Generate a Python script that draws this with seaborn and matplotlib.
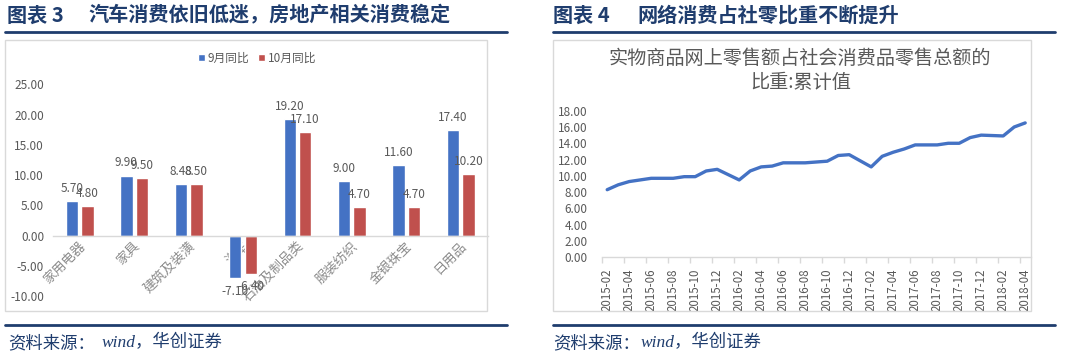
import matplotlib
matplotlib.use('Agg')
import matplotlib.pyplot as plt
import seaborn as sns
import pandas as pd
from matplotlib.patches import Rectangle
from matplotlib.lines import Line2D
from matplotlib.ticker import FormatStrFormatter, FixedLocator
from matplotlib.transforms import ScaledTranslation

# ---------------- data ----------------
categories = ['家用电器', '家具', '建筑及装潢', '汽车', '石油及制品类', '服装纺织', '金银珠宝', '日用品']
sep_yoy = [5.70, 9.90, 8.48, -7.10, 19.20, 9.00, 11.60, 17.40]
oct_yoy = [4.80, 9.50, 8.50, -6.40, 17.10, 4.70, 4.70, 10.20]
series_names = ['9月同比', '10月同比']
left_yticks = [-10, -5, 0, 5, 10, 15, 20, 25]

months = ['2015-02', '2015-03', '2015-04', '2015-05', '2015-06', '2015-07', '2015-08', '2015-09',
          '2015-10', '2015-11', '2015-12',
          '2016-02', '2016-03', '2016-04', '2016-05', '2016-06', '2016-07', '2016-08', '2016-09',
          '2016-10', '2016-11', '2016-12',
          '2017-02', '2017-03', '2017-04', '2017-05', '2017-06', '2017-07', '2017-08', '2017-09',
          '2017-10', '2017-11', '2017-12',
          '2018-02', '2018-03', '2018-04']
online_share = [8.3, 8.9, 9.3, 9.5, 9.7, 9.7, 9.7, 9.9, 9.9, 10.6, 10.8,
                9.5, 10.6, 11.1, 11.2, 11.6, 11.6, 11.6, 11.7, 11.8, 12.5, 12.6,
                11.1, 12.4, 12.9, 13.3, 13.8, 13.8, 13.8, 14.0, 14.0, 14.7, 15.0,
                14.9, 16.0, 16.5]
right_xtick_labels = ['2015-02', '2015-04', '2015-06', '2015-08', '2015-10', '2015-12',
                      '2016-02', '2016-04', '2016-06', '2016-08', '2016-10', '2016-12',
                      '2017-02', '2017-04', '2017-06', '2017-08', '2017-10', '2017-12',
                      '2018-02', '2018-04']
right_yticks = [0, 2, 4, 6, 8, 10, 12, 14, 16, 18]

left_title_num = '图表 3'
left_title = '汽车消费依旧低迷，房地产相关消费稳定'
right_title_num = '图表 4'
right_title = '网络消费占社零比重不断提升'
chart_title_1 = '实物商品网上零售额占社会消费品零售总额的'
chart_title_2 = '比重:累计值'
source_a = '资料来源：'
source_b = 'wind，华创证券'

# ---------------- style ----------------
sns.set_style('white')
plt.rcParams['font.family'] = ['Noto Sans CJK SC', 'DejaVu Sans']

W, H = 1080, 356
fig = plt.figure(figsize=(W / 100, H / 100), dpi=100)


def fx(px):
    return px / W


def fy(py):
    return 1 - py / H


NAVY = '#1F3D6E'
GRID = '#D9D9D9'
TXT = '#595959'
BLUE = '#4472C4'
RED = '#C0504D'

# ---------------- page decorations ----------------
for x0, x1 in [(5, 507), (553, 1055)]:
    for yy in (31.7, 325):
        fig.add_artist(Line2D([fx(x0), fx(x1)], [fy(yy), fy(yy)], color=NAVY, lw=2.0,
                              transform=fig.transFigure))
for x0, x1 in [(5, 487), (553, 1031)]:
    fig.add_artist(Rectangle((fx(x0), fy(311)), fx(x1) - fx(x0), fy(40) - fy(311),
                             transform=fig.transFigure, fill=False, edgecolor=GRID, lw=1))

fig.text(fx(7), fy(15), left_title_num, fontsize=14.5, fontweight='bold', color=NAVY,
         ha='left', va='center')
fig.text(fx(88), fy(15), left_title, fontsize=14.5, fontweight='bold', color=NAVY,
         ha='left', va='center')
fig.text(fx(553), fy(15), right_title_num, fontsize=14.5, fontweight='bold', color=NAVY,
         ha='left', va='center')
fig.text(fx(637), fy(15), right_title, fontsize=14.5, fontweight='bold', color=NAVY,
         ha='left', va='center')

src_fam = ['Liberation Serif', 'Noto Sans CJK SC']
fig.text(fx(8), fy(343), source_a, fontsize=12.5, color=NAVY, ha='left', va='center')
fig.text(fx(102), fy(343), source_b, fontsize=12.5, color=NAVY, ha='left', va='center',
         family=src_fam, style='italic')
fig.text(fx(553), fy(343), source_a, fontsize=12.5, color=NAVY, ha='left', va='center')
fig.text(fx(641), fy(343), source_b, fontsize=12.5, color=NAVY, ha='left', va='center',
         family=src_fam, style='italic')

# ---------------- left chart: grouped bars ----------------
ax1 = fig.add_axes([fx(52.5), fy(296), (488 - 52.5) / W, (296 - 84.3) / H])
df1 = pd.DataFrame({
    'category': categories * 2,
    'value': sep_yoy + oct_yoy,
    'series': [series_names[0]] * len(categories) + [series_names[1]] * len(categories),
})
sns.barplot(data=df1, x='category', y='value', hue='series', palette=[BLUE, RED],
            width=0.57, gap=0.2, saturation=1, ax=ax1, legend=True)
ax1.set_ylim(-10, 25)
ax1.set_yticks(left_yticks)
ax1.yaxis.set_major_formatter(FormatStrFormatter('%.2f'))
ax1.set_xlabel('')
ax1.set_ylabel('')
for s in ('top', 'right', 'left'):
    ax1.spines[s].set_visible(False)
ax1.spines['bottom'].set_position(('data', 0))
ax1.spines['bottom'].set_color(GRID)
ax1.spines['bottom'].set_linewidth(1)
ax1.tick_params(axis='y', length=0, labelsize=8.5, labelcolor=TXT, pad=6)
ax1.tick_params(axis='x', length=0, labelsize=9.5, labelcolor='#8C8C8C', pad=6)
off = ScaledTranslation(4 / 100, 0, fig.dpi_scale_trans)
for lab in ax1.get_xticklabels():
    lab.set_rotation(45)
    lab.set_ha('right')
    lab.set_va('center')
    lab.set_rotation_mode('anchor')
    lab.set_transform(lab.get_transform() + off)
for cont in ax1.containers:
    ax1.bar_label(cont, fmt='%.2f', padding=4.5, fontsize=8.5, color=TXT)
ax1.legend(loc='center', bbox_to_anchor=(fx(257), fy(58)), bbox_transform=fig.transFigure,
           ncol=2, frameon=False, handlelength=0.6, handleheight=0.6, handletextpad=0.2,
           columnspacing=0.8, fontsize=8.5, labelcolor=TXT)

# ---------------- right chart: line ----------------
def month_index(m):
    return (int(m[:4]) - 2015) * 12 + int(m[5:7]) - 2


xpos = [month_index(m) for m in months]
ax2 = fig.add_axes([fx(601.7), fy(257.3), 429 / W, (257.3 - 110.7) / H])
sns.lineplot(x=xpos, y=online_share, color=BLUE, linewidth=2.4, ax=ax2)
ax2.set_xlim(-0.5, 38.5)
ax2.set_ylim(0, 18)
ax2.set_yticks(right_yticks)
ax2.yaxis.set_major_formatter(FormatStrFormatter('%.2f'))
label_pos = [month_index(m) for m in right_xtick_labels]
ax2.set_xticks(label_pos)
ax2.set_xticklabels(right_xtick_labels, rotation=90)
ax2.xaxis.set_minor_locator(FixedLocator([p - 0.5 for p in label_pos]))
for s in ('top', 'right', 'left'):
    ax2.spines[s].set_visible(False)
ax2.spines['bottom'].set_color(GRID)
ax2.spines['bottom'].set_linewidth(1)
ax2.tick_params(axis='y', length=0, labelsize=8.5, labelcolor=TXT, pad=10)
ax2.tick_params(axis='x', which='major', length=0, labelsize=8.3, labelcolor=TXT, pad=8)
ax2.tick_params(axis='x', which='minor', length=4, width=1, color=GRID, bottom=True)

fig.text(fx(800), fy(58), chart_title_1, fontsize=13.8, color=TXT, ha='center', va='center')
fig.text(fx(801), fy(83), chart_title_2, fontsize=13.8, color=TXT, ha='center', va='center')

fig.savefig('out.png', dpi=100)
